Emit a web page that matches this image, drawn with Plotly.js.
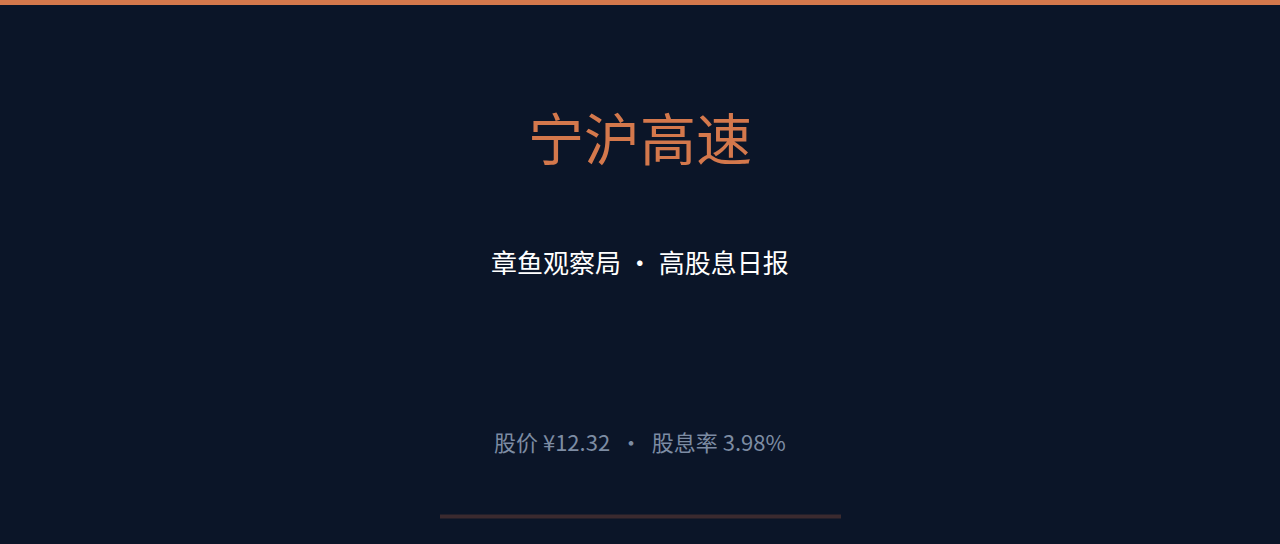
<!DOCTYPE html>
<html>
<head>
<meta charset="utf-8">
<script src="https://cdn.plot.ly/plotly-3.0.1.min.js"></script>
<style>
  html, body { margin: 0; padding: 0; background: #0b1528; }
  #card { width: 1280px; height: 544px; }
</style>
</head>
<body>
<div id="card"></div>
<script>
// card texts
var stockName = "宁沪高速";
var brand = "章鱼观察局";
var column = "高股息日报";
var price = 12.32;      // 股价, yuan
var divYield = 3.98;    // 股息率, percent

var accent = "#d4784c";
var cjk = "'Noto Sans CJK SC', 'Noto Sans', sans-serif";

var W = 1280, H = 544;
// pixel -> paper helpers (y measured from top)
function px(x) { return x / W; }
function py(y) { return 1 - y / H; }

var layout = {
    width: W,
    height: H,
    margin: { l: 0, r: 0, t: 0, b: 0, pad: 0 },
    paper_bgcolor: "#0b1528",
    plot_bgcolor: "#0b1528",
    showlegend: false,
    xaxis: { visible: false, range: [0, 1], fixedrange: true },
    yaxis: { visible: false, range: [0, 1], fixedrange: true },
    annotations: [
        {
            text: stockName,
            xref: "paper", yref: "paper",
            x: 0.5, y: py(135), xanchor: "center", yanchor: "middle",
            showarrow: false,
            font: { family: cjk, size: 56, color: accent }
        },
        {
            text: brand + " · " + column,
            xref: "paper", yref: "paper",
            x: 0.5, y: py(261), xanchor: "center", yanchor: "middle",
            showarrow: false,
            font: { family: cjk, size: 26, color: "#ffffff" }
        },
        {
            text: "股价 ¥" + price.toFixed(2) + "  ·  股息率 " + divYield.toFixed(2) + "%",
            xref: "paper", yref: "paper",
            x: 0.5, y: py(441), xanchor: "center", yanchor: "middle",
            showarrow: false,
            font: { family: cjk, size: 22, color: "#7d8ca3" }
        }
    ],
    shapes: [
        // top accent bar
        {
            type: "rect", xref: "paper", yref: "paper",
            x0: 0, x1: 1, y0: py(5), y1: 1,
            fillcolor: accent, line: { width: 0 }
        },
        // bottom divider
        {
            type: "line", xref: "paper", yref: "paper",
            x0: px(440), x1: px(841), y0: py(516.5), y1: py(516.5),
            line: { color: "#3b2a2f", width: 4 }
        }
    ]
};

Plotly.newPlot("card", [], layout, { displayModeBar: false, staticPlot: true });
</script>
</body>
</html>
